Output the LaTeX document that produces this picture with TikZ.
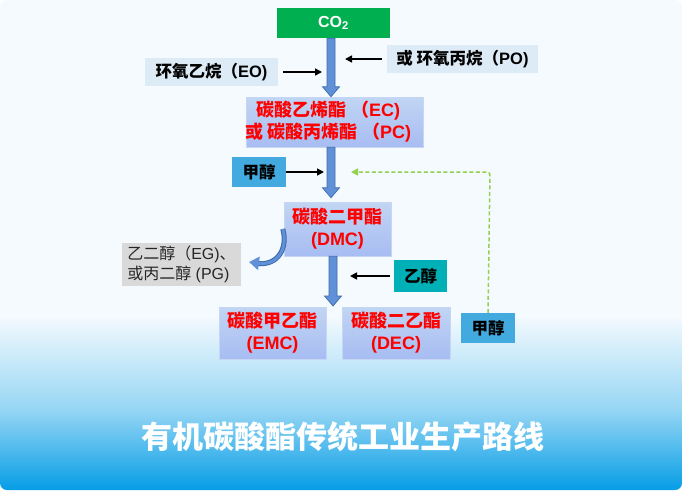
\documentclass[tikz,border=0pt]{standalone}
\usepackage{fontspec}
\setmainfont{Liberation Sans}
\newfontfamily\cjk{Noto Sans CJK SC}
\newcommand\zh[1]{{\cjk #1}}
\usetikzlibrary{arrows.meta,calc}
\definecolor{bgtop}{RGB}{245,250,254}
\definecolor{bgmid}{RGB}{150,214,244}
\definecolor{bgbot}{RGB}{6,157,230}
\definecolor{lbl}{RGB}{221,235,247}
\definecolor{prod}{RGB}{182,205,241}
\definecolor{green1}{RGB}{0,176,80}
\definecolor{meoh}{RGB}{66,170,222}
\definecolor{etoh}{RGB}{0,176,182}
\definecolor{grayb}{RGB}{217,217,217}
\definecolor{arrA}{RGB}{96,145,216}
\definecolor{arrB}{RGB}{62,108,170}
\definecolor{dgreen}{RGB}{146,208,80}
\definecolor{redt}{RGB}{255,0,0}
\newcommand\blockarr[2]{%
  \path (#1) coordinate (ba1) (#2) coordinate (ba2);
  \draw[barrow] ($(ba1)+(-4,0)$) -- ($(ba2)+(-4,-10)$) -- ($(ba2)+(-8.5,-10)$) -- (ba2)
    -- ($(ba2)+(8.5,-10)$) -- ($(ba2)+(4,-10)$) -- ($(ba1)+(4,0)$) -- cycle;}
\tikzset{
  box/.style={inner sep=0pt, align=center, font=\bfseries},
  lblbox/.style={box, fill=lbl, font=\fontsize{16.5}{19}\selectfont\bfseries},
  prodbox/.style={box, top color=prod!85!white, bottom color=prod!92!blue, draw=prod!80!white, line width=0.5pt,
    text=redt, font=\fontsize{18}{22}\selectfont\bfseries},
  barrow/.style={fill=arrA, draw=arrB, line width=0.7pt},
  thinarr/.style={line width=1.6pt, -{Triangle[length=7pt,width=7pt]}},
}
\begin{document}
\begin{tikzpicture}[x=1pt,y=-1pt]
\useasboundingbox (0,0) rectangle (682,490);
\fill[white] (0,0) rectangle (682,490);
\begin{scope}
\clip[rounded corners=7pt] (0,0) rectangle (682,490);
\fill[bgtop] (0,0) rectangle (682,490);
\shade[top color=bgtop, bottom color=bgmid] (0,315) rectangle (682,410);
\shade[top color=bgmid, bottom color=bgbot] (0,409.5) rectangle (682,490);
\end{scope}

% nodes
\node[box, fill=green1, text=white, minimum width=113pt, minimum height=30pt,
  font=\fontsize{16}{18}\selectfont\bfseries] (co2) at (333.5,23) {CO\textsubscript{2}};
\node[lblbox, minimum width=133pt, minimum height=28pt] (eo) at (211.5,72) {\zh{环氧乙烷（}EO)};
\node[lblbox, minimum width=151pt, minimum height=28pt] (po) at (462.5,59) {\zh{或 环氧丙烷（}PO)};
\node[prodbox, minimum width=177pt, minimum height=50pt] (ec) at (334.5,122)
  {\hspace*{-12pt}\zh{碳酸乙烯酯 （}EC)\\\hspace*{-12pt}\zh{或 碳酸丙烯酯 （}PC)};
\node[box, fill=meoh, minimum width=54pt, minimum height=30pt,
  font=\fontsize{16.5}{18}\selectfont\bfseries] (m1) at (259,172) {\zh{甲醇}};
\node[prodbox, minimum width=107pt, minimum height=54pt] (dmc) at (337.5,229) {\zh{碳酸二甲酯}\\(DMC)};
\node[inner sep=0pt, align=left, fill=grayb, minimum width=119pt, minimum height=43pt,
  font=\fontsize{16}{20}\selectfont, text=black!85] (eg) at (181.5,264.5) {\zh{乙二醇（}EG)\zh{、}\\\zh{或丙二醇} (PG)};
\node[box, fill=etoh, minimum width=53pt, minimum height=32pt,
  font=\fontsize{16.5}{18}\selectfont\bfseries] (et) at (420.5,276) {\zh{乙醇}};
\node[prodbox, minimum width=107pt, minimum height=52pt] (emc) at (272.5,333) {\zh{碳酸甲乙酯}\\(EMC)};
\node[prodbox, minimum width=108pt, minimum height=52pt] (dec) at (396,333) {\zh{碳酸二乙酯}\\(DEC)};
\node[box, fill=meoh, minimum width=54pt, minimum height=30pt,
  font=\fontsize{16.5}{18}\selectfont\bfseries] (m2) at (488,328) {\zh{甲醇}};
\node[text=white, font=\fontsize{31}{34}\selectfont\bfseries] (title) at (343,437) {\zh{有机碳酸酯传统工业生产路线}};

% coordinates
\coordinate (ax1) at (331,0);
\coordinate (ax2) at (333,0);
\coordinate (eoT) at (322,72);
\coordinate (poT) at (345,59);
\coordinate (m1T) at (324,172);
\coordinate (etT) at (350,276);
\coordinate (gT) at (351,172);
\coordinate (gC) at (490,172);
\coordinate (dmcEnd) at (333,306);

% block arrows
\blockarr{co2.south -| ax1}{ec.north -| ax1}
\blockarr{ec.south -| ax1}{$(dmc.north -| ax1)+(0,-4)$}
\blockarr{dmc.south -| ax2}{dmcEnd}

% thin arrows
\draw[thinarr] ([xshift=5pt]eo.east) -- (eoT);
\draw[thinarr] ([xshift=-5pt]po.west) -- (poT);
\draw[thinarr] (m1.east) -- (m1T);
\draw[thinarr] ([xshift=-4pt]et.west) -- (etT);

% dashed recycle
\draw[dgreen, line width=1.5pt, dash pattern=on 4pt off 2.5pt, rounded corners=3pt,
  -{Triangle[length=7pt,width=7pt]}] (m2.north) -- (gC) -- (gT);

% curved arrow
\draw[arrB, line width=5pt] ([xshift=-1pt]dmc.west) .. controls (288,247) and (279,266) .. (257,263.5);
\draw[arrA, line width=3pt, -{Triangle[length=10pt,width=13pt]}] ([xshift=-1pt]dmc.west) .. controls (288,247) and (279,266) .. (249,262);
\end{tikzpicture}
\end{document}
